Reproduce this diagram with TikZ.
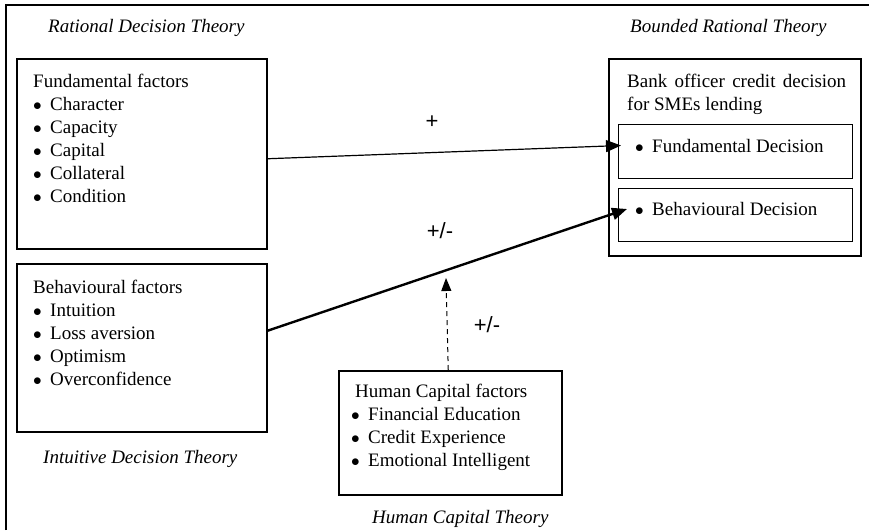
\documentclass[tikz,border=0pt]{standalone}
\usepackage{fontspec}
\setmainfont{Liberation Serif}
\newfontfamily\signfont{Liberation Sans}
\usetikzlibrary{arrows.meta, positioning}
\newcommand{\bul}{\makebox[17pt][l]{$\bullet$}}

\begin{document}
\begin{tikzpicture}[
  x=1pt, y=-1pt,
  font=\fontsize{19}{23}\selectfont,
  factorbox/.style={draw, line width=1.5pt, minimum width=250pt, anchor=north west, inner sep=0pt},
  outerbox/.style={draw, line width=1.5pt, anchor=north west, inner sep=0pt},
  decbox/.style={draw, line width=1pt, minimum width=234pt, anchor=north west, inner sep=0pt},
  boxtext/.style={align=left, inner sep=0pt},
  theory/.style={font=\fontsize{19}{23}\selectfont\itshape, inner sep=0pt, anchor=base west},
  sign/.style={font=\signfont\fontsize{22}{24}\selectfont, inner sep=0pt},
  arrow/.style={-{Triangle[length=15pt, width=12pt]}, line width=1.2pt},
  bigarrow/.style={-{Triangle[length=15pt, width=12pt]}, line width=2.4pt},
  dasharrow/.style={-{Triangle[length=13pt, width=10pt]}, line width=1pt, dash pattern=on 5pt off 4pt}
]

% frame
\useasboundingbox (0,0) rectangle (869,530);
\draw[line width=1.5pt] (6,530) -- (6,5) -- (869,5);

% left column
\node[theory] (rdt) at (48,32) {Rational Decision Theory};
\node[factorbox, minimum height=190pt] (fund) at (16,58) {};
\node[boxtext, below right=16pt and 17pt of fund.north west] (fundtxt) {Fundamental factors\\
  \bul Character\\ \bul Capacity\\ \bul Capital\\ \bul Collateral\\ \bul Condition};

\node[factorbox, minimum height=168pt] (behav) at (16,263) {};
\node[boxtext, below right=17pt and 17pt of behav.north west] (behavtxt) {Behavioural factors\\
  \bul Intuition\\ \bul Loss aversion\\ \bul Optimism\\ \bul Overconfidence};
\node[theory] (idt) at (43,463) {Intuitive Decision Theory};

% human capital
\node[outerbox, minimum width=223pt, minimum height=124pt] (hc) at (338,370) {};
\node[boxtext, below right=14pt and 13pt of hc.north west] (hctxt) {\hspace*{4pt}Human Capital factors\\
  \bul Financial Education\\ \bul Credit Experience\\ \bul Emotional Intelligent};
\node[theory] (hct) at (372,523) {Human Capital Theory};

% bank officer decision
\node[theory] (brt) at (630,32) {Bounded Rational Theory};
\node[outerbox, minimum width=252pt, minimum height=197pt] (bank) at (608,58) {};
\node[boxtext, text width=219pt, align=justify, below right=16pt and 19pt of bank.north west] (banktxt)
  {Bank officer credit decision for SMEs lending};
\node[decbox, minimum height=54pt] (fdec) at (618,124) {};
\node[boxtext, below right=15pt and 17pt of fdec.north west] (fdectxt) {\bul Fundamental Decision};
\node[decbox, minimum height=53pt] (bdec) at (618,188) {};
\node[boxtext, below right=14pt and 17pt of bdec.north west] (bdectxt) {\bul Behavioural Decision};

% connectors
\draw[arrow] ([yshift=-5pt]fund.east) -- ([shift={(3pt,6pt)}]fdec.west);
\draw[bigarrow] ([yshift=17pt]behav.east) -- ([shift={(9pt,6pt)}]bdec.west);
\coordinate (modtip) at (446,278);
\draw[dasharrow] ([xshift=-2pt]hc.north) -- (modtip);

\node[sign] (s1) at (432,122) {+};
\node[sign] (s2) at (440,231) {+/-};
\node[sign] (s3) at (487,325) {+/-};

\end{tikzpicture}
\end{document}
